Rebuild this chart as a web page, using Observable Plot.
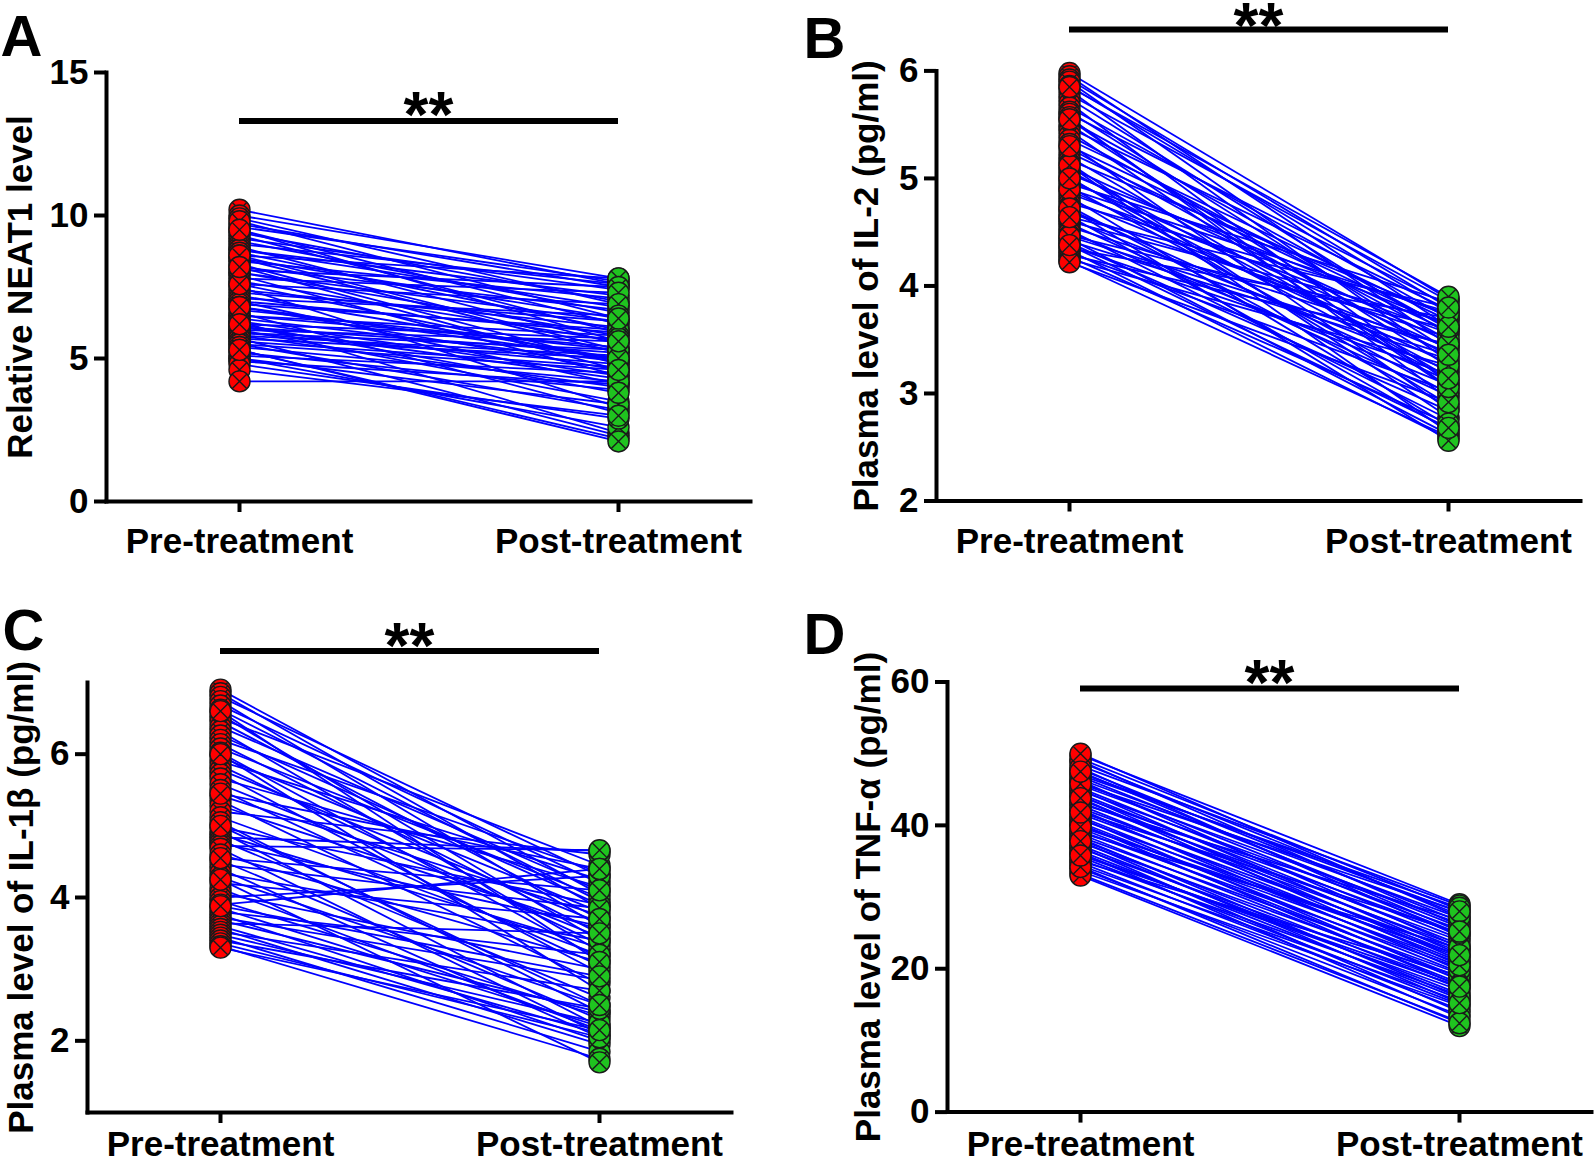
<!DOCTYPE html>
<html>
<head>
<meta charset="utf-8">
<script src="https://cdn.jsdelivr.net/npm/d3@7"></script>
<script src="https://cdn.jsdelivr.net/npm/@observablehq/plot@0.6"></script>
<style>
  body { margin: 0; background: #fff; }
  #root { position: relative; width: 1594px; height: 1164px; overflow: hidden; background: #fff; }
  #root svg { position: absolute; overflow: visible; }
</style>
</head>
<body>
<div id="root"></div>
<script>
// ---------- data ----------
const groups = ["Pre-treatment", "Post-treatment"];
const panelLetters = ["A", "B", "C", "D"];
const yLabels = [
  "Relative NEAT1 level",
  "Plasma level of IL-2 (pg/ml)",
  "Plasma level of IL-1β (pg/ml)",
  "Plasma level of TNF-α (pg/ml)"
];
const yTicksA = [0, 5, 10, 15];
const yTicksB = [2, 3, 4, 5, 6];
const yTicksC = [2, 4, 6];
const yTicksD = [0, 20, 40, 60];
const sigLabel = "**";

const neat1Pre = [10.2,10.0,9.9,9.7,9.6,9.5,9.4,9.3,9.2,9.1, 9.0,8.9,8.8,8.8,8.7,8.6,8.5,8.5,8.4,8.3,
  8.2,8.1,8.0,8.0,7.9,7.8,7.7,7.6,7.5,7.4, 7.3,7.2,7.1,7.0,7.0,6.9,6.8,6.7,6.6,6.5,
  6.5,6.4,6.3,6.3,6.2,6.1,6.1,6.0,6.0,5.9, 5.9,5.8,5.8,5.7,5.7,5.6,5.5,5.5,5.4,5.3,
  5.2,5.1,5.0,5.0,4.9,4.8,4.6,4.2, 9.8,8.6,7.6,6.8,6.2,5.3,9.5,8.2];
const neat1Post = [7.6,7.8,6.9,7.5,7.7,6.2,7.0,5.9,7.4,6.6, 7.6,5.5,6.8,7.2,6.0,7.8,5.2,6.4,7.1,4.8,
  6.7,7.5,5.8,6.3,4.4,7.3,5.6,6.9,3.3,6.1, 6.3,5.0,6.5,4.1,5.9,6.0,4.6,5.3,3.1,5.4,
  5.8,4.9,4.4,2.4,5.7,5.2,4.3,5.6,3.5,5.3, 4.8,4.0,5.1,2.3,5.0,4.7,3.2,4.6,4.2,2.2,
  3.9,4.5,2.6,3.4,4.1,2.9,3.0,4.2, 6.4,5.3,4.9,5.0,3.8,2.1,5.6,4.6];

const il2Pre = [5.98,5.95,5.92,5.90,5.86,5.82,5.78,5.74,5.70,5.66, 5.62,5.60,5.57,5.54,5.50,5.47,5.44,5.40,5.36,5.32,
  5.28,5.24,5.20,5.17,5.14,5.10,5.07,5.04,5.01,4.98, 4.95,4.92,4.89,4.86,4.83,4.80,4.77,4.74,4.71,4.68,
  4.65,4.62,4.60,4.58,4.55,4.52,4.50,4.47,4.44,4.42, 4.40,4.37,4.35,4.33,4.31,4.29,4.27,4.25,4.23,4.22,
  5.85,5.55,5.12,4.90,4.72,4.46,4.38,5.30,5.00,4.64];
const il2Post = [3.88,3.62,3.80,3.45,3.75,3.30,3.86,3.55,3.10,3.70, 3.40,3.82,2.95,3.60,3.25,3.78,3.05,3.50,3.68,2.85,
  3.35,3.58,3.15,3.72,2.78,3.48,3.20,3.64,2.90,3.42, 3.85,3.00,3.28,3.56,2.70,3.38,3.76,2.88,3.12,3.52,
  2.66,3.22,3.66,2.98,3.44,2.76,3.08,3.60,2.62,3.32, 2.84,3.18,3.70,2.58,3.02,3.46,2.72,3.26,2.60,2.92,
  3.90,3.06,2.64,3.74,2.56,3.36,2.68,3.62,3.14,3.80];

const il1bPre = [6.90,6.85,6.80,6.74,6.68,6.62,6.55,6.50,6.45,6.38, 6.32,6.26,6.20,6.14,6.08,6.02,5.96,5.90,5.84,5.78,
  5.72,5.66,5.58,5.50,5.42,5.35,5.28,5.20,5.12,5.05, 4.98,4.92,4.88,4.84,4.80,4.76,4.72,4.68,4.60,4.52,
  4.46,4.40,4.34,4.28,4.20,4.12,4.06,4.00,3.95,3.90, 3.85,3.80,3.76,3.72,3.68,3.64,3.60,3.56,3.52,3.48,
  3.44,3.40,3.36,3.32,3.30, 6.60,6.00,5.45,5.00,4.55,4.25,3.88];
const il1bPost = [4.05,3.85,4.30,3.60,4.20,3.95,3.40,4.45,3.70,4.10, 3.25,3.90,4.35,3.50,4.00,3.15,3.80,4.25,3.35,3.65,
  2.95,4.15,3.45,3.05,3.75,2.80,3.55,4.60,3.20,2.40, 3.90,2.20,3.30,4.65,2.60,3.60,4.66,2.10,3.10,2.30,
  3.85,2.05,3.40,2.50,3.70,2.15,3.00,4.30,2.35,4.40, 2.20,3.20,2.00,2.85,2.40,3.50,2.10,1.95,2.70,2.25,
  1.85,2.45,2.05,1.75,2.15, 3.10,2.70,4.40,2.50,4.10,1.70,2.90];

const tnfPre = [49.8,49.3,48.8,48.3,47.8,47.3,46.8,46.4,46.0,45.6, 45.2,44.8,44.4,44.0,43.6,43.2,42.8,42.4,42.0,41.6,
  41.2,40.8,40.4,40.0,39.6,39.2,38.8,38.4,38.0,37.6, 37.2,36.8,36.4,36.0,35.6,35.2,34.8,34.4,34.0,33.6,
  33.2,33.0,49.0,47.0,45.0,43.0,41.0,39.0,37.0,35.0, 48.0,46.2,44.2,42.2,40.2,38.2,36.2,34.2,50.0,45.8,
  43.8,39.8,37.8,35.8,41.8,47.5];
const tnfPost = [29.0,28.2,27.5,28.8,26.6,27.9,25.8,27.1,24.9,26.3, 24.2,25.5,23.4,24.8,22.7,23.9,21.8,23.1,21.0,22.4,
  20.3,21.6,19.5,20.8,18.8,20.1,18.0,19.3,17.3,18.6, 16.5,17.8,15.8,17.0,15.0,16.3,14.3,15.5,13.5,14.8,
  12.6,12.0,26.0,28.5,22.0,26.8,18.4,22.8,14.0,19.0, 24.5,23.0,21.2,19.8,17.6,16.0,13.2,12.4,27.2,28.0,
  20.5,21.9,15.2,17.5,25.0,25.2];

// ---------- drawing ----------
const FONT = "'Liberation Sans', Arial, Helvetica, sans-serif";
const RED = "#ff0000", GREEN = "#1fc41f", BLUE = "#0000ff", INK = "#1a1a1a";

// circle with an X inside, drawn as a single symbol path
const circleX = {
  draw(ctx, size) {
    const r = Math.sqrt(size / Math.PI);
    const k = r / Math.SQRT2;
    ctx.moveTo(r, 0);
    ctx.arc(0, 0, r, 0, 2 * Math.PI);
    ctx.moveTo(-k, -k); ctx.lineTo(k, k);
    ctx.moveTo(-k, k); ctx.lineTo(k, -k);
  }
};

const W = 797, H = 582;

function panel(o) {
  const rows = o.pre.map((v, i) => ({pre: v, post: o.post[i]}));
  const svg = Plot.plot({
    width: W, height: H,
    marginLeft: o.ml, marginRight: o.mr, marginTop: o.mt, marginBottom: o.mb,
    style: {fontFamily: FONT, background: "none", color: "#000", overflow: "visible"},
    x: {type: "point", domain: groups, padding: 0.3474},
    y: {domain: o.domain},
    marks: [
      Plot.link(rows, {x1: () => groups[0], x2: () => groups[1], y1: "pre", y2: "post",
        stroke: BLUE, strokeWidth: 1.8}),
      Plot.dot(o.pre, {x: () => groups[0], y: d => d, r: 10.5, symbol: circleX,
        fill: RED, stroke: INK, strokeWidth: 1.4}),
      Plot.dot(o.post, {x: () => groups[1], y: d => d, r: 10.5, symbol: circleX,
        fill: GREEN, stroke: INK, strokeWidth: 1.4}),
      Plot.frame({anchor: "left", stroke: "#000", strokeWidth: 4, strokeLinecap: "square"}),
      Plot.frame({anchor: "bottom", stroke: "#000", strokeWidth: 4, strokeLinecap: "square"}),
      Plot.axisY({ticks: o.ticks, tickFormat: "d", tickSize: 12, tickPadding: 6, fontSize: 35, fontWeight: "bold",
        strokeWidth: 4, label: null}),
      Plot.axisX({tickSize: 11, tickPadding: o.xPad, fontSize: 35, fontWeight: "bold",
        strokeWidth: 4, label: null}),
      Plot.ruleY([o.sig], {x1: () => groups[0], x2: () => groups[1], stroke: "#000", strokeWidth: 6}),
      Plot.text([sigLabel], {y: () => o.sig, frameAnchor: "top", text: d => d, dy: o.starDy,
        lineAnchor: "top", fontSize: 64, fontWeight: "bold", fill: "#000"}),
      Plot.text([o.label], {frameAnchor: "left", rotate: -90, dx: o.labelDx, text: d => d,
        lineAnchor: "middle", textAnchor: "middle", fontSize: 35, fontWeight: "bold", fill: "#000"}),
      Plot.text([o.letter], {frameAnchor: "top-left", text: d => d, dx: o.letterX - o.ml, dy: o.letterTop - o.mt,
        lineAnchor: "top", textAnchor: "start", fontSize: 58, fontWeight: "bold", fill: "#000"})
    ]
  });
  svg.style.left = o.left + "px";
  svg.style.top = o.top + "px";
  document.getElementById("root").appendChild(svg);
}

panel({letter: panelLetters[0], label: yLabels[0], pre: neat1Pre, post: neat1Post,
  domain: [0, 15], ticks: yTicksA, sig: 13.3, starDy: -30, xPad: 16,
  left: 0, top: 0, ml: 106, mr: 47, mt: 72, mb: 81, labelDx: -86, letterX: 0, letterTop: 14});
panel({letter: panelLetters[1], label: yLabels[1], pre: il2Pre, post: il2Post,
  domain: [2, 6], ticks: yTicksB, sig: 6.385, starDy: -27, xPad: 16,
  left: 797, top: 0, ml: 139, mr: 14, mt: 70.4, mb: 81.5, labelDx: -70, letterX: 6, letterTop: 16});
panel({letter: panelLetters[2], label: yLabels[2], pre: il1bPre, post: il1bPost,
  domain: [1, 7], ticks: yTicksC, sig: 7.44, starDy: -28, xPad: 8,
  left: 0, top: 582, ml: 87, mr: 66, mt: 100, mb: 52, labelDx: -66, letterX: 2, letterTop: 26});
panel({letter: panelLetters[3], label: yLabels[3], pre: tnfPre, post: tnfPost,
  domain: [0, 60], ticks: yTicksD, sig: 59.1, starDy: -29, xPad: 8,
  left: 797, top: 582, ml: 150, mr: 3, mt: 99.5, mb: 52.4, labelDx: -79, letterX: 6, letterTop: 30});
</script>
</body>
</html>
